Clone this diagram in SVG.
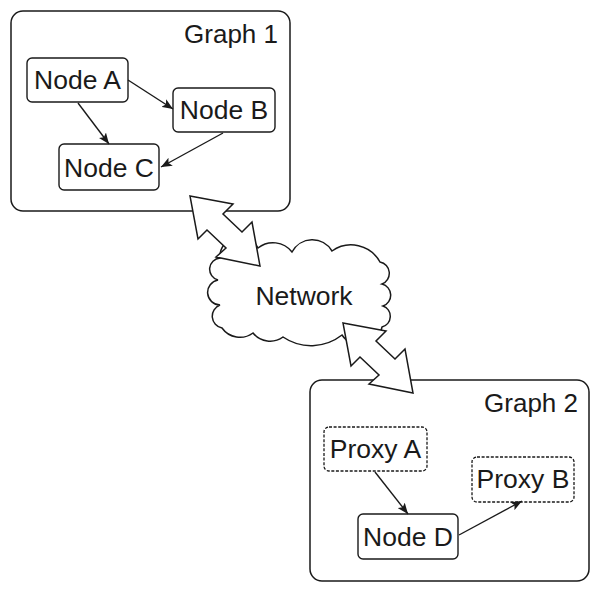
<svg xmlns="http://www.w3.org/2000/svg" width="600" height="592" viewBox="0 0 600 592">
<defs>
<style>
.box{fill:#fff;stroke:#1a1a1a;stroke-width:1.5}
.node{fill:#fff;stroke:#1a1a1a;stroke-width:1.4}
.proxy{fill:#fff;stroke:#1a1a1a;stroke-width:1.3;stroke-dasharray:3 1.6}
.lbl{font-family:"Liberation Sans",Arial,sans-serif;font-size:26.5px;fill:#1a1a1a;text-anchor:middle}
.title{font-family:"Liberation Sans",Arial,sans-serif;font-size:26px;fill:#1a1a1a;text-anchor:end}
.edge{fill:none;stroke:#1a1a1a;stroke-width:1.4}
.block{fill:#fff;stroke:#1a1a1a;stroke-width:1.5;stroke-linejoin:miter}
</style>
<marker id="ah" markerUnits="userSpaceOnUse" markerWidth="12" markerHeight="9" refX="11" refY="4.5" orient="auto">
<path d="M0,0 L11,4.5 L0,9 L2.5,4.5 z" fill="#1a1a1a"/>
</marker>
</defs>
<g id="graph1">
<rect class="box" x="11" y="11" width="279" height="200" rx="12"/>
<text class="title" x="278" y="43">Graph 1</text>
</g>
<g id="graph2">
<rect class="box" x="310" y="380" width="279" height="201" rx="12"/>
<text class="title" x="578" y="412">Graph 2</text>
</g>
<g id="nodeA">
<rect class="node" x="27" y="58" width="101" height="44" rx="5"/>
<text class="lbl" x="77.5" y="89">Node A</text>
</g>
<g id="nodeB">
<rect class="node" x="173" y="88" width="102" height="44" rx="5"/>
<text class="lbl" x="224" y="119">Node B</text>
</g>
<g id="nodeC">
<rect class="node" x="59" y="144" width="100" height="46" rx="5"/>
<text class="lbl" x="109" y="177">Node C</text>
</g>
<g id="proxyA">
<rect class="proxy" x="324" y="427" width="103" height="44" rx="5"/>
<text class="lbl" x="375.5" y="458">Proxy A</text>
</g>
<g id="proxyB">
<rect class="proxy" x="472" y="457" width="102" height="45" rx="5"/>
<text class="lbl" x="523" y="488">Proxy B</text>
</g>
<g id="nodeD">
<rect class="node" x="358" y="514" width="100" height="45" rx="5"/>
<text class="lbl" x="408" y="546">Node D</text>
</g>
<g id="network">
<path class="box" d="M220,258 A20 20 0 0 1 258,248 A24 24 0 0 1 292,252 A23 23 0 0 1 332,251 A33 33 0 0 1 380,262 A11.5 11.5 0 0 1 382,284 A11.5 11.5 0 0 1 383,306 A11 11 0 0 1 382,327 A22 22 0 0 1 342,335 A50 50 0 0 1 283,337 A22 22 0 0 1 253,333 A22 22 0 0 1 222,328 A12 12 0 0 1 220,305 A12.6 12.6 0 0 1 218,280 A11.2 11.2 0 0 1 220,258 Z"/>
<text class="lbl" x="304" y="305">Network</text>
</g>
<g id="connectors">
<line class="edge" x1="128" y1="80" x2="173" y2="109" marker-end="url(#ah)"/>
<line class="edge" x1="78" y1="103" x2="109" y2="144" marker-end="url(#ah)"/>
<line class="edge" x1="223" y1="133" x2="161" y2="167" marker-end="url(#ah)"/>
<line class="edge" x1="375" y1="472" x2="408" y2="514" marker-end="url(#ah)"/>
<line class="edge" x1="459" y1="535" x2="522" y2="501" marker-end="url(#ah)"/>
<polygon id="link1" class="block" points="190,196 233,204 223,214 242,232 252,222 260,266 216,257 226,248 207,230 198,239"/>
<polygon id="link2" class="block" transform="translate(153,127)" points="190,196 233,204 223,214 242,232 252,222 260,266 216,257 226,248 207,230 198,239"/>
</g>
</svg>
